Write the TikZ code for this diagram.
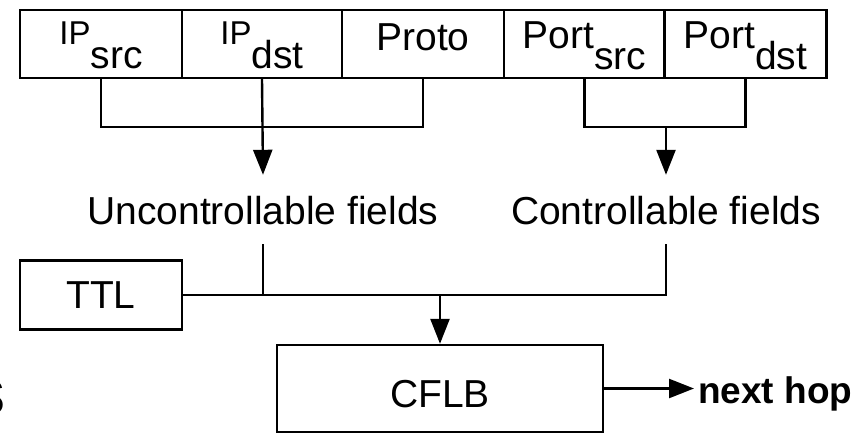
\documentclass[tikz,border=0pt]{standalone}
\usepackage{fontspec}
\setmainfont{Liberation Sans}
\usetikzlibrary{arrows.meta}
\newcommand\ipfont{\fontsize{33}{34}\selectfont}
\begin{document}
\begin{tikzpicture}[x=1pt,y=-1pt,
  every node/.style={font=\fontsize{39}{42}\selectfont},
  cell/.style={draw, line width=2.4pt, minimum height=68pt, inner sep=0pt, text height=34pt, text depth=34pt},
  boxnode/.style={draw, line width=2.4pt, inner sep=0pt, text depth=0pt},
  lbl/.style={inner xsep=2pt, inner ysep=20pt, text height=29pt, text depth=0pt},
  conn/.style={line width=2.4pt},
  arr/.style={conn, -{Triangle[length=25pt,width=19pt]}}]
\useasboundingbox (0,0) rectangle (865,434);

% header cells
\node[cell, minimum width=162pt] (c1) at (101,44) {{\ipfont IP}\raisebox{-24pt}{src}};
\node[cell, minimum width=160pt] (c2) at (262,44) {{\ipfont IP}\raisebox{-24pt}{dst}};
\node[cell, minimum width=162pt] (c3) at (423,44) {\raisebox{-6pt}{Proto}};
\node[cell, minimum width=161pt] (c4) at (584.5,44) {\raisebox{-4pt}{Port}\raisebox{-25pt}{src}};
\node[cell, minimum width=162pt] (c5) at (745.5,44) {\raisebox{-4pt}{Port}\raisebox{-25pt}{dst}};

% labels
\node[lbl] (unc) at (263,209.5) {Uncontrollable fields};
\node[lbl] (ctl) at (666,209.5) {Controllable fields};

% boxes
\node[boxnode, minimum width=162pt, minimum height=69pt, text height=27pt] (ttl) at (101,295) {TTL};
\node[boxnode, minimum width=326pt, minimum height=87pt, text height=37pt] (cflb) at (440,388.5) {CFLB};
\node[anchor=base west, inner sep=4pt, font=\fontsize{37}{40}\selectfont\bfseries] (nh) at (694,403) {next hop};

% cropped fragment at left edge
\node[anchor=base east, inner sep=0pt, font=\fontsize{64}{66}\selectfont] (frag) at (6,414) {s};

% junctions
\coordinate (j1) at (263,127);
\coordinate (j2) at (666,127);

% connectors
\draw[conn] (c1.south) |- (j1) -| (c3.south);
\draw[arr] (c2.south) -- (unc.north);
\draw[conn] (c4.south) |- (j2) -| (c5.south);
\draw[arr] (j2) -- (ctl.north);

\draw[conn] (ctl.south) |- (ttl.east);
\draw[conn] (unc.south) -- (unc.south |- ttl.east);
\draw[arr] (cflb.north |- ttl.east) -- (cflb.north);
\draw[arr] (cflb.east) -- (cflb.east -| nh.west);
\end{tikzpicture}
\end{document}
